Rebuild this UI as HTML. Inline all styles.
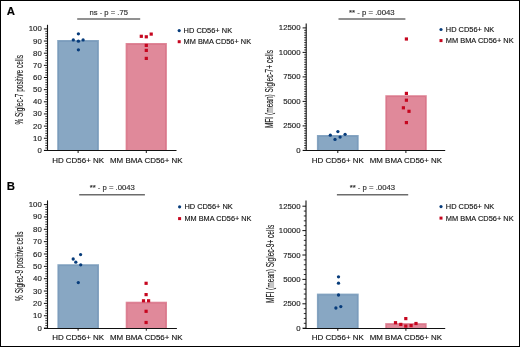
<!DOCTYPE html>
<html><head><meta charset="utf-8"><title>Siglec figure</title>
<style>
html,body{margin:0;padding:0;background:#fff;}
body{width:520px;height:347px;overflow:hidden;}
svg{display:block;font-family:"Liberation Sans", sans-serif;will-change:transform;}
text{stroke:#222;stroke-width:0.15px;}
</style></head>
<body>
<svg width="520" height="347" viewBox="0 0 520 347">
<rect x="0" y="0" width="520" height="347" fill="#fff"/>
<rect x="57.2" y="40" width="41.7" height="110.4" fill="#88a7c3"/>
<path d="M58.5,150.4V41.4H97.6V150.4" fill="none" stroke="#7a9bbb" stroke-width="1"/>
<rect x="125.6" y="43" width="41.3" height="107.4" fill="#e0899a"/>
<path d="M126.9,150.4V44.4H165.6V150.4" fill="none" stroke="#d9778b" stroke-width="1"/>
<line x1="47.5" y1="24.8" x2="47.5" y2="151" stroke="#111111" stroke-width="1.1"/>
<line x1="44" y1="150.5" x2="176.5" y2="150.5" stroke="#111111" stroke-width="1.1"/>
<line x1="43.9" y1="150.4" x2="47.5" y2="150.4" stroke="#111111" stroke-width="1"/>
<text x="41.8" y="152.94" font-size="7.8" text-anchor="end" fill="#222" >0</text>
<line x1="45.3" y1="147.97" x2="47.5" y2="147.97" stroke="#111111" stroke-width="0.85"/>
<line x1="45.3" y1="145.54" x2="47.5" y2="145.54" stroke="#111111" stroke-width="0.85"/>
<line x1="45.3" y1="143.11" x2="47.5" y2="143.11" stroke="#111111" stroke-width="0.85"/>
<line x1="45.3" y1="140.68" x2="47.5" y2="140.68" stroke="#111111" stroke-width="0.85"/>
<line x1="43.9" y1="138.25" x2="47.5" y2="138.25" stroke="#111111" stroke-width="1"/>
<text x="41.8" y="140.79" font-size="7.8" text-anchor="end" fill="#222" >10</text>
<line x1="45.3" y1="135.82" x2="47.5" y2="135.82" stroke="#111111" stroke-width="0.85"/>
<line x1="45.3" y1="133.39" x2="47.5" y2="133.39" stroke="#111111" stroke-width="0.85"/>
<line x1="45.3" y1="130.96" x2="47.5" y2="130.96" stroke="#111111" stroke-width="0.85"/>
<line x1="45.3" y1="128.53" x2="47.5" y2="128.53" stroke="#111111" stroke-width="0.85"/>
<line x1="43.9" y1="126.1" x2="47.5" y2="126.1" stroke="#111111" stroke-width="1"/>
<text x="41.8" y="128.64" font-size="7.8" text-anchor="end" fill="#222" >20</text>
<line x1="45.3" y1="123.67" x2="47.5" y2="123.67" stroke="#111111" stroke-width="0.85"/>
<line x1="45.3" y1="121.24" x2="47.5" y2="121.24" stroke="#111111" stroke-width="0.85"/>
<line x1="45.3" y1="118.81" x2="47.5" y2="118.81" stroke="#111111" stroke-width="0.85"/>
<line x1="45.3" y1="116.38" x2="47.5" y2="116.38" stroke="#111111" stroke-width="0.85"/>
<line x1="43.9" y1="113.95" x2="47.5" y2="113.95" stroke="#111111" stroke-width="1"/>
<text x="41.8" y="116.49" font-size="7.8" text-anchor="end" fill="#222" >30</text>
<line x1="45.3" y1="111.52" x2="47.5" y2="111.52" stroke="#111111" stroke-width="0.85"/>
<line x1="45.3" y1="109.09" x2="47.5" y2="109.09" stroke="#111111" stroke-width="0.85"/>
<line x1="45.3" y1="106.66" x2="47.5" y2="106.66" stroke="#111111" stroke-width="0.85"/>
<line x1="45.3" y1="104.23" x2="47.5" y2="104.23" stroke="#111111" stroke-width="0.85"/>
<line x1="43.9" y1="101.8" x2="47.5" y2="101.8" stroke="#111111" stroke-width="1"/>
<text x="41.8" y="104.34" font-size="7.8" text-anchor="end" fill="#222" >40</text>
<line x1="45.3" y1="99.37" x2="47.5" y2="99.37" stroke="#111111" stroke-width="0.85"/>
<line x1="45.3" y1="96.94" x2="47.5" y2="96.94" stroke="#111111" stroke-width="0.85"/>
<line x1="45.3" y1="94.51" x2="47.5" y2="94.51" stroke="#111111" stroke-width="0.85"/>
<line x1="45.3" y1="92.08" x2="47.5" y2="92.08" stroke="#111111" stroke-width="0.85"/>
<line x1="43.9" y1="89.65" x2="47.5" y2="89.65" stroke="#111111" stroke-width="1"/>
<text x="41.8" y="92.19" font-size="7.8" text-anchor="end" fill="#222" >50</text>
<line x1="45.3" y1="87.22" x2="47.5" y2="87.22" stroke="#111111" stroke-width="0.85"/>
<line x1="45.3" y1="84.79" x2="47.5" y2="84.79" stroke="#111111" stroke-width="0.85"/>
<line x1="45.3" y1="82.36" x2="47.5" y2="82.36" stroke="#111111" stroke-width="0.85"/>
<line x1="45.3" y1="79.93" x2="47.5" y2="79.93" stroke="#111111" stroke-width="0.85"/>
<line x1="43.9" y1="77.5" x2="47.5" y2="77.5" stroke="#111111" stroke-width="1"/>
<text x="41.8" y="80.04" font-size="7.8" text-anchor="end" fill="#222" >60</text>
<line x1="45.3" y1="75.07" x2="47.5" y2="75.07" stroke="#111111" stroke-width="0.85"/>
<line x1="45.3" y1="72.64" x2="47.5" y2="72.64" stroke="#111111" stroke-width="0.85"/>
<line x1="45.3" y1="70.21" x2="47.5" y2="70.21" stroke="#111111" stroke-width="0.85"/>
<line x1="45.3" y1="67.78" x2="47.5" y2="67.78" stroke="#111111" stroke-width="0.85"/>
<line x1="43.9" y1="65.35" x2="47.5" y2="65.35" stroke="#111111" stroke-width="1"/>
<text x="41.8" y="67.89" font-size="7.8" text-anchor="end" fill="#222" >70</text>
<line x1="45.3" y1="62.92" x2="47.5" y2="62.92" stroke="#111111" stroke-width="0.85"/>
<line x1="45.3" y1="60.49" x2="47.5" y2="60.49" stroke="#111111" stroke-width="0.85"/>
<line x1="45.3" y1="58.06" x2="47.5" y2="58.06" stroke="#111111" stroke-width="0.85"/>
<line x1="45.3" y1="55.63" x2="47.5" y2="55.63" stroke="#111111" stroke-width="0.85"/>
<line x1="43.9" y1="53.2" x2="47.5" y2="53.2" stroke="#111111" stroke-width="1"/>
<text x="41.8" y="55.74" font-size="7.8" text-anchor="end" fill="#222" >80</text>
<line x1="45.3" y1="50.77" x2="47.5" y2="50.77" stroke="#111111" stroke-width="0.85"/>
<line x1="45.3" y1="48.34" x2="47.5" y2="48.34" stroke="#111111" stroke-width="0.85"/>
<line x1="45.3" y1="45.91" x2="47.5" y2="45.91" stroke="#111111" stroke-width="0.85"/>
<line x1="45.3" y1="43.48" x2="47.5" y2="43.48" stroke="#111111" stroke-width="0.85"/>
<line x1="43.9" y1="41.05" x2="47.5" y2="41.05" stroke="#111111" stroke-width="1"/>
<text x="41.8" y="43.59" font-size="7.8" text-anchor="end" fill="#222" >90</text>
<line x1="45.3" y1="38.62" x2="47.5" y2="38.62" stroke="#111111" stroke-width="0.85"/>
<line x1="45.3" y1="36.19" x2="47.5" y2="36.19" stroke="#111111" stroke-width="0.85"/>
<line x1="45.3" y1="33.76" x2="47.5" y2="33.76" stroke="#111111" stroke-width="0.85"/>
<line x1="45.3" y1="31.33" x2="47.5" y2="31.33" stroke="#111111" stroke-width="0.85"/>
<line x1="43.9" y1="28.9" x2="47.5" y2="28.9" stroke="#111111" stroke-width="1"/>
<text x="41.8" y="31.44" font-size="7.8" text-anchor="end" fill="#222" >100</text>
<line x1="78.1" y1="150.4" x2="78.1" y2="153" stroke="#111111" stroke-width="1"/>
<text x="78.1" y="163.2" font-size="7.9" text-anchor="middle" fill="#111" textLength="51.8" lengthAdjust="spacingAndGlyphs" >HD CD56+ NK</text>
<line x1="146.3" y1="150.4" x2="146.3" y2="153" stroke="#111111" stroke-width="1"/>
<text x="146.3" y="163.2" font-size="7.9" text-anchor="middle" fill="#111" textLength="72.7" lengthAdjust="spacingAndGlyphs" >MM BMA CD56+ NK</text>
<circle cx="78.4" cy="33.8" r="1.65" fill="#073c7b"/>
<circle cx="73.3" cy="39.9" r="1.65" fill="#073c7b"/>
<circle cx="78.4" cy="41.2" r="1.65" fill="#073c7b"/>
<circle cx="83.1" cy="39.9" r="1.65" fill="#073c7b"/>
<circle cx="78.4" cy="49.8" r="1.65" fill="#073c7b"/>
<rect x="139.7" y="34.7" width="3.2" height="3.2" fill="#c6061f"/>
<rect x="144.7" y="35.2" width="3.2" height="3.2" fill="#c6061f"/>
<rect x="149.6" y="32.5" width="3.2" height="3.2" fill="#c6061f"/>
<rect x="144.7" y="43.8" width="3.2" height="3.2" fill="#c6061f"/>
<rect x="144.7" y="48.8" width="3.2" height="3.2" fill="#c6061f"/>
<rect x="144.7" y="56.8" width="3.2" height="3.2" fill="#c6061f"/>
<line x1="77.2" y1="19" x2="140.2" y2="19" stroke="#6c6c6c" stroke-width="1.5"/>
<text x="108.7" y="14.7" font-size="7.4" text-anchor="middle" fill="#333" textLength="38.4" lengthAdjust="spacingAndGlyphs" >ns - p = .75</text>
<circle cx="179.2" cy="30.55" r="1.6" fill="#073c7b"/>
<rect x="177.7" y="40.2" width="3" height="3" fill="#c6061f"/>
<text x="183.6" y="32.88" font-size="7.5" text-anchor="start" fill="#111" textLength="48.5" lengthAdjust="spacingAndGlyphs" >HD CD56+ NK</text>
<text x="183.6" y="43.69" font-size="7.5" text-anchor="start" fill="#111" textLength="67.5" lengthAdjust="spacingAndGlyphs" >MM BMA CD56+ NK</text>
<text transform="translate(23.1,89.8) rotate(-90)" x="0" y="0" font-size="10" text-anchor="middle" fill="#1a1a1a" textLength="69.6" lengthAdjust="spacingAndGlyphs">% Siglec-7 positive cells</text>
<rect x="316.9" y="135" width="41.8" height="15.4" fill="#88a7c3"/>
<path d="M318.2,150.4V136.4H357.4V150.4" fill="none" stroke="#7a9bbb" stroke-width="1"/>
<rect x="385.3" y="95.2" width="41.5" height="55.2" fill="#e0899a"/>
<path d="M386.6,150.4V96.6H425.5V150.4" fill="none" stroke="#d9778b" stroke-width="1"/>
<line x1="306.2" y1="23.6" x2="306.2" y2="151" stroke="#111111" stroke-width="1.1"/>
<line x1="303" y1="150.5" x2="445.2" y2="150.5" stroke="#111111" stroke-width="1.1"/>
<line x1="302.6" y1="150.4" x2="306.2" y2="150.4" stroke="#111111" stroke-width="1"/>
<text x="300.5" y="152.94" font-size="7.8" text-anchor="end" fill="#222" >0</text>
<line x1="304.2" y1="147.95" x2="306.2" y2="147.95" stroke="#111111" stroke-width="0.85"/>
<line x1="304.2" y1="145.5" x2="306.2" y2="145.5" stroke="#111111" stroke-width="0.85"/>
<line x1="304.2" y1="143.05" x2="306.2" y2="143.05" stroke="#111111" stroke-width="0.85"/>
<line x1="304.2" y1="140.6" x2="306.2" y2="140.6" stroke="#111111" stroke-width="0.85"/>
<line x1="304.2" y1="138.15" x2="306.2" y2="138.15" stroke="#111111" stroke-width="0.85"/>
<line x1="304.2" y1="135.7" x2="306.2" y2="135.7" stroke="#111111" stroke-width="0.85"/>
<line x1="304.2" y1="133.25" x2="306.2" y2="133.25" stroke="#111111" stroke-width="0.85"/>
<line x1="304.2" y1="130.8" x2="306.2" y2="130.8" stroke="#111111" stroke-width="0.85"/>
<line x1="304.2" y1="128.35" x2="306.2" y2="128.35" stroke="#111111" stroke-width="0.85"/>
<line x1="302.6" y1="125.9" x2="306.2" y2="125.9" stroke="#111111" stroke-width="1"/>
<text x="300.5" y="128.44" font-size="7.8" text-anchor="end" fill="#222" >2500</text>
<line x1="304.2" y1="123.45" x2="306.2" y2="123.45" stroke="#111111" stroke-width="0.85"/>
<line x1="304.2" y1="121" x2="306.2" y2="121" stroke="#111111" stroke-width="0.85"/>
<line x1="304.2" y1="118.55" x2="306.2" y2="118.55" stroke="#111111" stroke-width="0.85"/>
<line x1="304.2" y1="116.1" x2="306.2" y2="116.1" stroke="#111111" stroke-width="0.85"/>
<line x1="304.2" y1="113.65" x2="306.2" y2="113.65" stroke="#111111" stroke-width="0.85"/>
<line x1="304.2" y1="111.2" x2="306.2" y2="111.2" stroke="#111111" stroke-width="0.85"/>
<line x1="304.2" y1="108.75" x2="306.2" y2="108.75" stroke="#111111" stroke-width="0.85"/>
<line x1="304.2" y1="106.3" x2="306.2" y2="106.3" stroke="#111111" stroke-width="0.85"/>
<line x1="304.2" y1="103.85" x2="306.2" y2="103.85" stroke="#111111" stroke-width="0.85"/>
<line x1="302.6" y1="101.4" x2="306.2" y2="101.4" stroke="#111111" stroke-width="1"/>
<text x="300.5" y="103.94" font-size="7.8" text-anchor="end" fill="#222" >5000</text>
<line x1="304.2" y1="98.95" x2="306.2" y2="98.95" stroke="#111111" stroke-width="0.85"/>
<line x1="304.2" y1="96.5" x2="306.2" y2="96.5" stroke="#111111" stroke-width="0.85"/>
<line x1="304.2" y1="94.05" x2="306.2" y2="94.05" stroke="#111111" stroke-width="0.85"/>
<line x1="304.2" y1="91.6" x2="306.2" y2="91.6" stroke="#111111" stroke-width="0.85"/>
<line x1="304.2" y1="89.15" x2="306.2" y2="89.15" stroke="#111111" stroke-width="0.85"/>
<line x1="304.2" y1="86.7" x2="306.2" y2="86.7" stroke="#111111" stroke-width="0.85"/>
<line x1="304.2" y1="84.25" x2="306.2" y2="84.25" stroke="#111111" stroke-width="0.85"/>
<line x1="304.2" y1="81.8" x2="306.2" y2="81.8" stroke="#111111" stroke-width="0.85"/>
<line x1="304.2" y1="79.35" x2="306.2" y2="79.35" stroke="#111111" stroke-width="0.85"/>
<line x1="302.6" y1="76.9" x2="306.2" y2="76.9" stroke="#111111" stroke-width="1"/>
<text x="300.5" y="79.44" font-size="7.8" text-anchor="end" fill="#222" >7500</text>
<line x1="304.2" y1="74.45" x2="306.2" y2="74.45" stroke="#111111" stroke-width="0.85"/>
<line x1="304.2" y1="72" x2="306.2" y2="72" stroke="#111111" stroke-width="0.85"/>
<line x1="304.2" y1="69.55" x2="306.2" y2="69.55" stroke="#111111" stroke-width="0.85"/>
<line x1="304.2" y1="67.1" x2="306.2" y2="67.1" stroke="#111111" stroke-width="0.85"/>
<line x1="304.2" y1="64.65" x2="306.2" y2="64.65" stroke="#111111" stroke-width="0.85"/>
<line x1="304.2" y1="62.2" x2="306.2" y2="62.2" stroke="#111111" stroke-width="0.85"/>
<line x1="304.2" y1="59.75" x2="306.2" y2="59.75" stroke="#111111" stroke-width="0.85"/>
<line x1="304.2" y1="57.3" x2="306.2" y2="57.3" stroke="#111111" stroke-width="0.85"/>
<line x1="304.2" y1="54.85" x2="306.2" y2="54.85" stroke="#111111" stroke-width="0.85"/>
<line x1="302.6" y1="52.4" x2="306.2" y2="52.4" stroke="#111111" stroke-width="1"/>
<text x="300.5" y="54.94" font-size="7.8" text-anchor="end" fill="#222" >10000</text>
<line x1="304.2" y1="49.95" x2="306.2" y2="49.95" stroke="#111111" stroke-width="0.85"/>
<line x1="304.2" y1="47.5" x2="306.2" y2="47.5" stroke="#111111" stroke-width="0.85"/>
<line x1="304.2" y1="45.05" x2="306.2" y2="45.05" stroke="#111111" stroke-width="0.85"/>
<line x1="304.2" y1="42.6" x2="306.2" y2="42.6" stroke="#111111" stroke-width="0.85"/>
<line x1="304.2" y1="40.15" x2="306.2" y2="40.15" stroke="#111111" stroke-width="0.85"/>
<line x1="304.2" y1="37.7" x2="306.2" y2="37.7" stroke="#111111" stroke-width="0.85"/>
<line x1="304.2" y1="35.25" x2="306.2" y2="35.25" stroke="#111111" stroke-width="0.85"/>
<line x1="304.2" y1="32.8" x2="306.2" y2="32.8" stroke="#111111" stroke-width="0.85"/>
<line x1="304.2" y1="30.35" x2="306.2" y2="30.35" stroke="#111111" stroke-width="0.85"/>
<line x1="302.6" y1="27.9" x2="306.2" y2="27.9" stroke="#111111" stroke-width="1"/>
<text x="300.5" y="30.44" font-size="7.8" text-anchor="end" fill="#222" >12500</text>
<line x1="337.8" y1="150.4" x2="337.8" y2="153" stroke="#111111" stroke-width="1"/>
<text x="337.8" y="163.1" font-size="7.9" text-anchor="middle" fill="#111" textLength="52.1" lengthAdjust="spacingAndGlyphs" >HD CD56+ NK</text>
<line x1="405.9" y1="150.4" x2="405.9" y2="153" stroke="#111111" stroke-width="1"/>
<text x="405.9" y="163.1" font-size="7.9" text-anchor="middle" fill="#111" textLength="72.3" lengthAdjust="spacingAndGlyphs" >MM BMA CD56+ NK</text>
<circle cx="330.3" cy="135.2" r="1.65" fill="#073c7b"/>
<circle cx="335" cy="139.4" r="1.65" fill="#073c7b"/>
<circle cx="337.9" cy="131.6" r="1.65" fill="#073c7b"/>
<circle cx="340.1" cy="137.1" r="1.65" fill="#073c7b"/>
<circle cx="345.1" cy="134.3" r="1.65" fill="#073c7b"/>
<rect x="404.8" y="37.4" width="3.2" height="3.2" fill="#c6061f"/>
<rect x="404.8" y="91.8" width="3.2" height="3.2" fill="#c6061f"/>
<rect x="404.8" y="98.6" width="3.2" height="3.2" fill="#c6061f"/>
<rect x="401.8" y="106.2" width="3.2" height="3.2" fill="#c6061f"/>
<rect x="407.4" y="109.7" width="3.2" height="3.2" fill="#c6061f"/>
<rect x="404.8" y="121" width="3.2" height="3.2" fill="#c6061f"/>
<line x1="338.5" y1="19" x2="405.4" y2="19" stroke="#6c6c6c" stroke-width="1.5"/>
<text x="371.8" y="14.6" font-size="7.4" text-anchor="middle" fill="#333" textLength="45.7" lengthAdjust="spacingAndGlyphs" >** - p = .0043</text>
<circle cx="441" cy="29.5" r="1.6" fill="#073c7b"/>
<rect x="439.5" y="39.1" width="3" height="3" fill="#c6061f"/>
<text x="445.8" y="31.88" font-size="7.5" text-anchor="start" fill="#111" textLength="48.4" lengthAdjust="spacingAndGlyphs" >HD CD56+ NK</text>
<text x="445.8" y="43.04" font-size="7.5" text-anchor="start" fill="#111" textLength="67.8" lengthAdjust="spacingAndGlyphs" >MM BMA CD56+ NK</text>
<text transform="translate(273.4,89.05) rotate(-90)" x="0" y="0" font-size="10" text-anchor="middle" fill="#1a1a1a" textLength="78.1" lengthAdjust="spacingAndGlyphs">MFI (mean) Siglec-7+ cells</text>
<rect x="57.4" y="264.2" width="41.6" height="63.9" fill="#88a7c3"/>
<path d="M58.7,328.1V265.6H97.7V328.1" fill="none" stroke="#7a9bbb" stroke-width="1"/>
<rect x="125.7" y="301.7" width="41.3" height="26.4" fill="#e0899a"/>
<path d="M127,328.1V303.1H165.7V328.1" fill="none" stroke="#d9778b" stroke-width="1"/>
<line x1="47.5" y1="200.4" x2="47.5" y2="329" stroke="#111111" stroke-width="1.1"/>
<line x1="44" y1="328.5" x2="176.9" y2="328.5" stroke="#111111" stroke-width="1.1"/>
<line x1="43.9" y1="328.1" x2="47.5" y2="328.1" stroke="#111111" stroke-width="1"/>
<text x="41.8" y="330.64" font-size="7.8" text-anchor="end" fill="#222" >0</text>
<line x1="45.3" y1="325.63" x2="47.5" y2="325.63" stroke="#111111" stroke-width="0.85"/>
<line x1="45.3" y1="323.16" x2="47.5" y2="323.16" stroke="#111111" stroke-width="0.85"/>
<line x1="45.3" y1="320.69" x2="47.5" y2="320.69" stroke="#111111" stroke-width="0.85"/>
<line x1="45.3" y1="318.22" x2="47.5" y2="318.22" stroke="#111111" stroke-width="0.85"/>
<line x1="43.9" y1="315.75" x2="47.5" y2="315.75" stroke="#111111" stroke-width="1"/>
<text x="41.8" y="318.29" font-size="7.8" text-anchor="end" fill="#222" >10</text>
<line x1="45.3" y1="313.28" x2="47.5" y2="313.28" stroke="#111111" stroke-width="0.85"/>
<line x1="45.3" y1="310.81" x2="47.5" y2="310.81" stroke="#111111" stroke-width="0.85"/>
<line x1="45.3" y1="308.34" x2="47.5" y2="308.34" stroke="#111111" stroke-width="0.85"/>
<line x1="45.3" y1="305.87" x2="47.5" y2="305.87" stroke="#111111" stroke-width="0.85"/>
<line x1="43.9" y1="303.4" x2="47.5" y2="303.4" stroke="#111111" stroke-width="1"/>
<text x="41.8" y="305.94" font-size="7.8" text-anchor="end" fill="#222" >20</text>
<line x1="45.3" y1="300.93" x2="47.5" y2="300.93" stroke="#111111" stroke-width="0.85"/>
<line x1="45.3" y1="298.46" x2="47.5" y2="298.46" stroke="#111111" stroke-width="0.85"/>
<line x1="45.3" y1="295.99" x2="47.5" y2="295.99" stroke="#111111" stroke-width="0.85"/>
<line x1="45.3" y1="293.52" x2="47.5" y2="293.52" stroke="#111111" stroke-width="0.85"/>
<line x1="43.9" y1="291.05" x2="47.5" y2="291.05" stroke="#111111" stroke-width="1"/>
<text x="41.8" y="293.59" font-size="7.8" text-anchor="end" fill="#222" >30</text>
<line x1="45.3" y1="288.58" x2="47.5" y2="288.58" stroke="#111111" stroke-width="0.85"/>
<line x1="45.3" y1="286.11" x2="47.5" y2="286.11" stroke="#111111" stroke-width="0.85"/>
<line x1="45.3" y1="283.64" x2="47.5" y2="283.64" stroke="#111111" stroke-width="0.85"/>
<line x1="45.3" y1="281.17" x2="47.5" y2="281.17" stroke="#111111" stroke-width="0.85"/>
<line x1="43.9" y1="278.7" x2="47.5" y2="278.7" stroke="#111111" stroke-width="1"/>
<text x="41.8" y="281.24" font-size="7.8" text-anchor="end" fill="#222" >40</text>
<line x1="45.3" y1="276.23" x2="47.5" y2="276.23" stroke="#111111" stroke-width="0.85"/>
<line x1="45.3" y1="273.76" x2="47.5" y2="273.76" stroke="#111111" stroke-width="0.85"/>
<line x1="45.3" y1="271.29" x2="47.5" y2="271.29" stroke="#111111" stroke-width="0.85"/>
<line x1="45.3" y1="268.82" x2="47.5" y2="268.82" stroke="#111111" stroke-width="0.85"/>
<line x1="43.9" y1="266.35" x2="47.5" y2="266.35" stroke="#111111" stroke-width="1"/>
<text x="41.8" y="268.89" font-size="7.8" text-anchor="end" fill="#222" >50</text>
<line x1="45.3" y1="263.88" x2="47.5" y2="263.88" stroke="#111111" stroke-width="0.85"/>
<line x1="45.3" y1="261.41" x2="47.5" y2="261.41" stroke="#111111" stroke-width="0.85"/>
<line x1="45.3" y1="258.94" x2="47.5" y2="258.94" stroke="#111111" stroke-width="0.85"/>
<line x1="45.3" y1="256.47" x2="47.5" y2="256.47" stroke="#111111" stroke-width="0.85"/>
<line x1="43.9" y1="254" x2="47.5" y2="254" stroke="#111111" stroke-width="1"/>
<text x="41.8" y="256.54" font-size="7.8" text-anchor="end" fill="#222" >60</text>
<line x1="45.3" y1="251.53" x2="47.5" y2="251.53" stroke="#111111" stroke-width="0.85"/>
<line x1="45.3" y1="249.06" x2="47.5" y2="249.06" stroke="#111111" stroke-width="0.85"/>
<line x1="45.3" y1="246.59" x2="47.5" y2="246.59" stroke="#111111" stroke-width="0.85"/>
<line x1="45.3" y1="244.12" x2="47.5" y2="244.12" stroke="#111111" stroke-width="0.85"/>
<line x1="43.9" y1="241.65" x2="47.5" y2="241.65" stroke="#111111" stroke-width="1"/>
<text x="41.8" y="244.19" font-size="7.8" text-anchor="end" fill="#222" >70</text>
<line x1="45.3" y1="239.18" x2="47.5" y2="239.18" stroke="#111111" stroke-width="0.85"/>
<line x1="45.3" y1="236.71" x2="47.5" y2="236.71" stroke="#111111" stroke-width="0.85"/>
<line x1="45.3" y1="234.24" x2="47.5" y2="234.24" stroke="#111111" stroke-width="0.85"/>
<line x1="45.3" y1="231.77" x2="47.5" y2="231.77" stroke="#111111" stroke-width="0.85"/>
<line x1="43.9" y1="229.3" x2="47.5" y2="229.3" stroke="#111111" stroke-width="1"/>
<text x="41.8" y="231.84" font-size="7.8" text-anchor="end" fill="#222" >80</text>
<line x1="45.3" y1="226.83" x2="47.5" y2="226.83" stroke="#111111" stroke-width="0.85"/>
<line x1="45.3" y1="224.36" x2="47.5" y2="224.36" stroke="#111111" stroke-width="0.85"/>
<line x1="45.3" y1="221.89" x2="47.5" y2="221.89" stroke="#111111" stroke-width="0.85"/>
<line x1="45.3" y1="219.42" x2="47.5" y2="219.42" stroke="#111111" stroke-width="0.85"/>
<line x1="43.9" y1="216.95" x2="47.5" y2="216.95" stroke="#111111" stroke-width="1"/>
<text x="41.8" y="219.49" font-size="7.8" text-anchor="end" fill="#222" >90</text>
<line x1="45.3" y1="214.48" x2="47.5" y2="214.48" stroke="#111111" stroke-width="0.85"/>
<line x1="45.3" y1="212.01" x2="47.5" y2="212.01" stroke="#111111" stroke-width="0.85"/>
<line x1="45.3" y1="209.54" x2="47.5" y2="209.54" stroke="#111111" stroke-width="0.85"/>
<line x1="45.3" y1="207.07" x2="47.5" y2="207.07" stroke="#111111" stroke-width="0.85"/>
<line x1="43.9" y1="204.6" x2="47.5" y2="204.6" stroke="#111111" stroke-width="1"/>
<text x="41.8" y="207.14" font-size="7.8" text-anchor="end" fill="#222" >100</text>
<line x1="78.1" y1="328.1" x2="78.1" y2="330.7" stroke="#111111" stroke-width="1"/>
<text x="78.1" y="340.4" font-size="7.9" text-anchor="middle" fill="#111" textLength="51.8" lengthAdjust="spacingAndGlyphs" >HD CD56+ NK</text>
<line x1="146.3" y1="328.1" x2="146.3" y2="330.7" stroke="#111111" stroke-width="1"/>
<text x="146.3" y="340.4" font-size="7.9" text-anchor="middle" fill="#111" textLength="72.7" lengthAdjust="spacingAndGlyphs" >MM BMA CD56+ NK</text>
<circle cx="80.6" cy="254.6" r="1.65" fill="#073c7b"/>
<circle cx="73.2" cy="259" r="1.65" fill="#073c7b"/>
<circle cx="75.8" cy="262.2" r="1.65" fill="#073c7b"/>
<circle cx="80.7" cy="264.8" r="1.65" fill="#073c7b"/>
<circle cx="78.3" cy="282.6" r="1.65" fill="#073c7b"/>
<rect x="144.5" y="281.7" width="3.2" height="3.2" fill="#c6061f"/>
<rect x="144.5" y="293" width="3.2" height="3.2" fill="#c6061f"/>
<rect x="141.9" y="299.2" width="3.2" height="3.2" fill="#c6061f"/>
<rect x="147" y="299.2" width="3.2" height="3.2" fill="#c6061f"/>
<rect x="144.5" y="309.7" width="3.2" height="3.2" fill="#c6061f"/>
<rect x="144.5" y="320.9" width="3.2" height="3.2" fill="#c6061f"/>
<line x1="79.2" y1="194.7" x2="144.9" y2="194.7" stroke="#6c6c6c" stroke-width="1.5"/>
<text x="112.3" y="190" font-size="7.4" text-anchor="middle" fill="#333" textLength="45.2" lengthAdjust="spacingAndGlyphs" >** - p = .0043</text>
<circle cx="179.6" cy="206.8" r="1.6" fill="#073c7b"/>
<rect x="178.1" y="217.1" width="3" height="3" fill="#c6061f"/>
<text x="184.4" y="209.19" font-size="7.5" text-anchor="start" fill="#111" textLength="48.4" lengthAdjust="spacingAndGlyphs" >HD CD56+ NK</text>
<text x="184.4" y="220.99" font-size="7.5" text-anchor="start" fill="#111" textLength="67.1" lengthAdjust="spacingAndGlyphs" >MM BMA CD56+ NK</text>
<text transform="translate(23.3,266.2) rotate(-90)" x="0" y="0" font-size="10" text-anchor="middle" fill="#1a1a1a" textLength="69.4" lengthAdjust="spacingAndGlyphs">% Siglec-9 positive cells</text>
<rect x="316.9" y="293.6" width="41.8" height="34.6" fill="#88a7c3"/>
<path d="M318.2,328.2V295H357.4V328.2" fill="none" stroke="#7a9bbb" stroke-width="1"/>
<rect x="385.2" y="323.1" width="41.5" height="5.1" fill="#e0899a"/>
<path d="M386.5,328.2V324.5H425.4V328.2" fill="none" stroke="#d9778b" stroke-width="1"/>
<line x1="306" y1="200.5" x2="306" y2="329" stroke="#111111" stroke-width="1.1"/>
<line x1="303" y1="328.5" x2="445.2" y2="328.5" stroke="#111111" stroke-width="1.1"/>
<line x1="302.4" y1="328.2" x2="306" y2="328.2" stroke="#111111" stroke-width="1"/>
<text x="300.5" y="330.74" font-size="7.8" text-anchor="end" fill="#222" >0</text>
<line x1="303.8" y1="323.32" x2="306" y2="323.32" stroke="#111111" stroke-width="0.85"/>
<line x1="303.8" y1="318.44" x2="306" y2="318.44" stroke="#111111" stroke-width="0.85"/>
<line x1="303.8" y1="313.56" x2="306" y2="313.56" stroke="#111111" stroke-width="0.85"/>
<line x1="303.8" y1="308.68" x2="306" y2="308.68" stroke="#111111" stroke-width="0.85"/>
<line x1="302.4" y1="303.8" x2="306" y2="303.8" stroke="#111111" stroke-width="1"/>
<text x="300.5" y="306.34" font-size="7.8" text-anchor="end" fill="#222" >2500</text>
<line x1="303.8" y1="298.92" x2="306" y2="298.92" stroke="#111111" stroke-width="0.85"/>
<line x1="303.8" y1="294.04" x2="306" y2="294.04" stroke="#111111" stroke-width="0.85"/>
<line x1="303.8" y1="289.16" x2="306" y2="289.16" stroke="#111111" stroke-width="0.85"/>
<line x1="303.8" y1="284.28" x2="306" y2="284.28" stroke="#111111" stroke-width="0.85"/>
<line x1="302.4" y1="279.4" x2="306" y2="279.4" stroke="#111111" stroke-width="1"/>
<text x="300.5" y="281.94" font-size="7.8" text-anchor="end" fill="#222" >5000</text>
<line x1="303.8" y1="274.52" x2="306" y2="274.52" stroke="#111111" stroke-width="0.85"/>
<line x1="303.8" y1="269.64" x2="306" y2="269.64" stroke="#111111" stroke-width="0.85"/>
<line x1="303.8" y1="264.76" x2="306" y2="264.76" stroke="#111111" stroke-width="0.85"/>
<line x1="303.8" y1="259.88" x2="306" y2="259.88" stroke="#111111" stroke-width="0.85"/>
<line x1="302.4" y1="255" x2="306" y2="255" stroke="#111111" stroke-width="1"/>
<text x="300.5" y="257.54" font-size="7.8" text-anchor="end" fill="#222" >7500</text>
<line x1="303.8" y1="250.12" x2="306" y2="250.12" stroke="#111111" stroke-width="0.85"/>
<line x1="303.8" y1="245.24" x2="306" y2="245.24" stroke="#111111" stroke-width="0.85"/>
<line x1="303.8" y1="240.36" x2="306" y2="240.36" stroke="#111111" stroke-width="0.85"/>
<line x1="303.8" y1="235.48" x2="306" y2="235.48" stroke="#111111" stroke-width="0.85"/>
<line x1="302.4" y1="230.6" x2="306" y2="230.6" stroke="#111111" stroke-width="1"/>
<text x="300.5" y="233.14" font-size="7.8" text-anchor="end" fill="#222" >10000</text>
<line x1="303.8" y1="225.72" x2="306" y2="225.72" stroke="#111111" stroke-width="0.85"/>
<line x1="303.8" y1="220.84" x2="306" y2="220.84" stroke="#111111" stroke-width="0.85"/>
<line x1="303.8" y1="215.96" x2="306" y2="215.96" stroke="#111111" stroke-width="0.85"/>
<line x1="303.8" y1="211.08" x2="306" y2="211.08" stroke="#111111" stroke-width="0.85"/>
<line x1="302.4" y1="206.2" x2="306" y2="206.2" stroke="#111111" stroke-width="1"/>
<text x="300.5" y="208.74" font-size="7.8" text-anchor="end" fill="#222" >12500</text>
<line x1="337.8" y1="328.2" x2="337.8" y2="330.8" stroke="#111111" stroke-width="1"/>
<text x="337.8" y="340.4" font-size="7.9" text-anchor="middle" fill="#111" textLength="52.1" lengthAdjust="spacingAndGlyphs" >HD CD56+ NK</text>
<line x1="405.9" y1="328.2" x2="405.9" y2="330.8" stroke="#111111" stroke-width="1"/>
<text x="405.9" y="340.4" font-size="7.9" text-anchor="middle" fill="#111" textLength="72.3" lengthAdjust="spacingAndGlyphs" >MM BMA CD56+ NK</text>
<circle cx="338.5" cy="276.8" r="1.65" fill="#073c7b"/>
<circle cx="338.5" cy="283.2" r="1.65" fill="#073c7b"/>
<circle cx="338.5" cy="295" r="1.65" fill="#073c7b"/>
<circle cx="335.9" cy="308" r="1.65" fill="#073c7b"/>
<circle cx="340.8" cy="306.6" r="1.65" fill="#073c7b"/>
<rect x="393.9" y="321.1" width="3.2" height="3.2" fill="#c6061f"/>
<rect x="399.2" y="322.8" width="3.2" height="3.2" fill="#c6061f"/>
<rect x="404.2" y="317" width="3.2" height="3.2" fill="#c6061f"/>
<rect x="404.2" y="324.5" width="3.2" height="3.2" fill="#c6061f"/>
<rect x="409.5" y="324" width="3.2" height="3.2" fill="#c6061f"/>
<rect x="414.4" y="321.9" width="3.2" height="3.2" fill="#c6061f"/>
<line x1="336.9" y1="194.7" x2="408.2" y2="194.7" stroke="#6c6c6c" stroke-width="1.5"/>
<text x="372.4" y="190" font-size="7.4" text-anchor="middle" fill="#333" textLength="45.4" lengthAdjust="spacingAndGlyphs" >** - p = .0043</text>
<circle cx="441" cy="206.6" r="1.6" fill="#073c7b"/>
<rect x="439.5" y="216.6" width="3" height="3" fill="#c6061f"/>
<text x="445.8" y="208.99" font-size="7.5" text-anchor="start" fill="#111" textLength="48.4" lengthAdjust="spacingAndGlyphs" >HD CD56+ NK</text>
<text x="445.8" y="220.99" font-size="7.5" text-anchor="start" fill="#111" textLength="67.8" lengthAdjust="spacingAndGlyphs" >MM BMA CD56+ NK</text>
<text transform="translate(273.5,263.9) rotate(-90)" x="0" y="0" font-size="10" text-anchor="middle" fill="#1a1a1a" textLength="78.2" lengthAdjust="spacingAndGlyphs">MFI (mean) Siglec-9+ cells</text>
<text x="6.8" y="14.9" font-size="11.4" text-anchor="start" fill="#000" font-weight="bold" >A</text>
<text x="6.8" y="190.3" font-size="11.4" text-anchor="start" fill="#000" font-weight="bold" >B</text>
<rect x="0.5" y="0.5" width="519" height="346" fill="none" stroke="#000" stroke-width="1"/>
</svg>
</body></html>
